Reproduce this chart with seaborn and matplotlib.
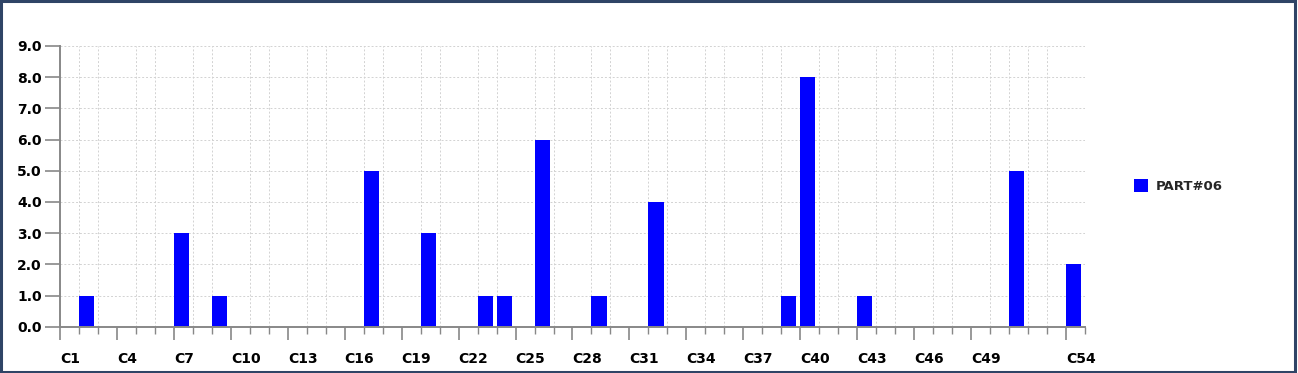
import matplotlib
matplotlib.use("Agg")
import matplotlib.pyplot as plt
import matplotlib.patches as mpatches
import seaborn as sns
import pandas as pd

# --- data ---
categories = [f"C{i}" for i in range(1, 55)]
nonzero = {"C2": 1, "C7": 3, "C9": 1, "C17": 5, "C20": 3, "C23": 1, "C24": 1,
           "C26": 6, "C29": 1, "C32": 4, "C39": 1, "C40": 8, "C43": 1,
           "C51": 5, "C54": 2}
values = [nonzero.get(c, 0) for c in categories]
shown_labels = ["C1", "C4", "C7", "C10", "C13", "C16", "C19", "C22", "C25", "C28",
                "C31", "C34", "C37", "C40", "C43", "C46", "C49", "C54"]
series_name = "PART#06"
y_ticks = [0, 1, 2, 3, 4, 5, 6, 7, 8, 9]

df = pd.DataFrame({"cat": categories, "val": values})

sns.set_theme(style="white")
plt.rcParams["font.family"] = ["DejaVu Sans"]

fig = plt.figure(figsize=(12.98, 3.73), dpi=100)
ax = fig.add_axes([0.0462, 0.1241, 0.7897, 0.7526])

sns.barplot(data=df, x="cat", y="val", color="#0000FF", saturation=1,
            width=0.8, ax=ax, label=series_name, linewidth=0)

# slots: bar i spans i-0.4 .. i+0.4, slot boundary at i-0.4
ax.set_xlim(-0.4, len(categories) - 0.4)
ax.set_ylim(0, 9)

minor_pos = [i - 0.4 for i in range(len(categories) + 1)]
major_pos = [categories.index(c) - 0.4 for c in shown_labels]
ax.set_xticks(minor_pos, minor=True)
ax.set_xticks(major_pos)
ax.set_xticklabels(shown_labels, ha="left", fontweight="bold", fontsize=10)
ax.set_yticks(y_ticks)
ax.set_yticklabels([f"{v:.1f}" for v in y_ticks], fontweight="bold", fontsize=10)

ax.tick_params(axis="x", which="major", length=9, width=1.2, color="#888888",
               bottom=True, pad=9, labelcolor="black")
ax.tick_params(axis="x", which="minor", length=5, width=1.0, color="#888888", bottom=True)
ax.tick_params(axis="y", length=11, width=1.2, color="#888888", left=True,
               pad=2, labelcolor="black")

ax.grid(True, which="minor", axis="x", color="#d2d2d2", linestyle=(0, (2, 2)), linewidth=0.7)
ax.grid(True, which="major", axis="y", color="#d2d2d2", linestyle=(0, (2, 2)), linewidth=0.7)
ax.set_axisbelow(True)

for s in ["top", "right"]:
    ax.spines[s].set_visible(False)
for s in ["left", "bottom"]:
    ax.spines[s].set_color("#888888")
    ax.spines[s].set_linewidth(1.4)

ax.set_xlabel("")
ax.set_ylabel("")

leg = ax.legend(loc="center left", bbox_to_anchor=(1.036, 0.5), frameon=False,
                handlelength=1.1, handleheight=1.1, handletextpad=0.6,
                prop={"weight": "bold", "size": 9.5})

# outer border of the picture
fig.patches.append(mpatches.Rectangle((0.001, 0.003), 0.997, 0.994, transform=fig.transFigure,
                                      fill=False, edgecolor="#2f4466", linewidth=2.2))

fig.savefig("out.png", dpi=100, facecolor="white")
